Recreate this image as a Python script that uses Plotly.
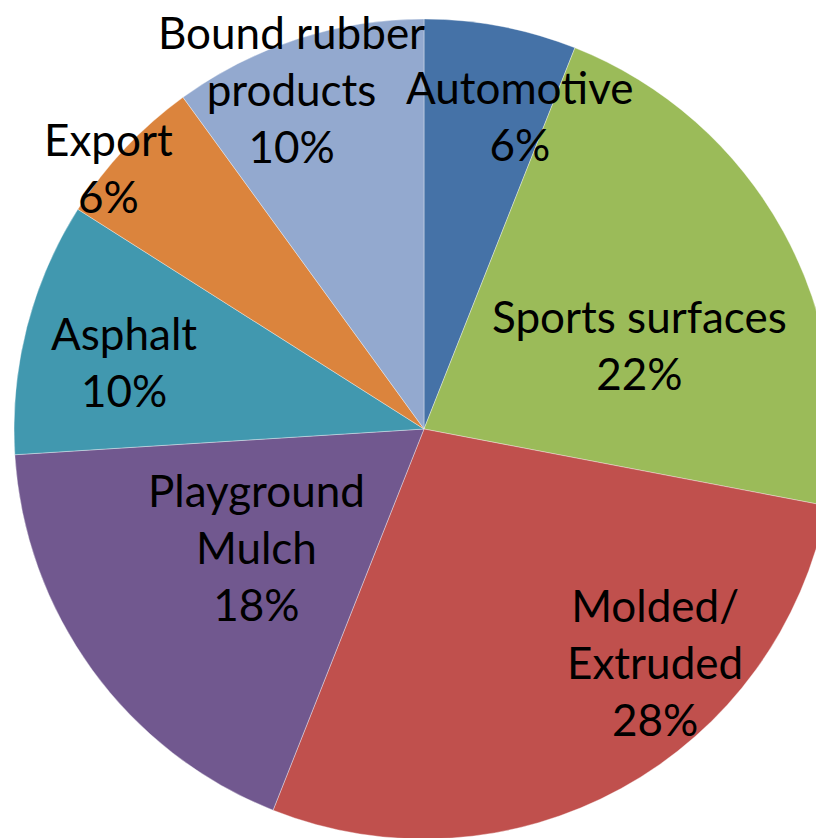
import math
import plotly.graph_objects as go

# ---- data ----
categories = ["Automotive", "Sports surfaces", "Molded/<br>Extruded", "Playground<br>Mulch",
              "Asphalt", "Export", "Bound rubber<br>products"]
values = [6, 22, 28, 18, 10, 6, 10]
colors = ["#4572A7", "#9BBB59", "#C0504D", "#71588F", "#4198AF", "#DB843D", "#93A9CF"]

# ---- label placement (style, not data) ----
label_r = [0.80, 0.565, 0.80, 0.50, 0.75, 1.0, 0.89]          # fraction of radius
label_da = [6.3, 7.5, -16.0, 0.7, -1.8, -3.5, -3.3]            # degrees offset from slice mid-angle

# figure is a little larger than the window; page body margin offsets it by 8px
W, H = 836, 846
OFF = 8
R_px = 410
cx_px = 424 - OFF
cy_px = 429 - OFF
dom_x = [(cx_px - R_px) / W, (cx_px + R_px) / W]
dom_y = [1 - (cy_px + R_px) / H, 1 - (cy_px - R_px) / H]

fig = go.Figure(go.Pie(
    labels=categories,
    values=values,
    sort=False,
    direction="clockwise",
    rotation=0,
    marker=dict(colors=colors, line=dict(color="rgba(255,255,255,0.6)", width=0.6)),
    textinfo="none",
    hoverinfo="label+percent",
    domain=dict(x=dom_x, y=dom_y),
    showlegend=False,
))

total = sum(values)
cum = 0
annotations = []
for lab, v, rf, da in zip(categories, values, label_r, label_da):
    mid = (cum + v / 2) / total * 360
    cum += v
    a = math.radians(mid + da)
    px = cx_px + rf * R_px * math.sin(a)
    py = cy_px - rf * R_px * math.cos(a)
    pct = round(v / total * 100)
    annotations.append(dict(
        x=px / W, y=1 - py / H, xref="paper", yref="paper",
        text=f"{lab}<br>{pct}%", showarrow=False,
        font=dict(family="Lato, 'Liberation Sans', sans-serif", size=44, color="black"),
        align="center", xanchor="center", yanchor="middle",
    ))

fig.update_layout(
    width=W, height=H,
    margin=dict(l=0, r=0, t=0, b=0),
    paper_bgcolor="white",
    plot_bgcolor="white",
    annotations=annotations,
)

fig.write_html("out.html")
